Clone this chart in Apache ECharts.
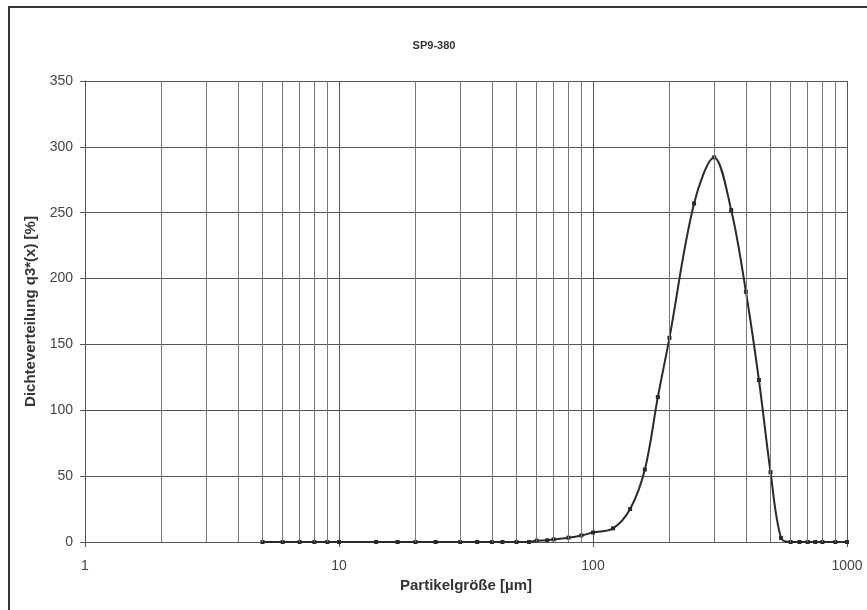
<!DOCTYPE html>
<html><head><meta charset="utf-8">
<script src="https://cdn.jsdelivr.net/npm/echarts@6/dist/echarts.min.js"></script>
<style>html,body{margin:0;padding:0;background:#fff}#c{width:867px;height:610px}</style>
</head><body><div id="c"></div>
<script>
const titleText = 'SP9-380';
const xAxisName = 'Partikelgröße [µm]';
const yAxisName = 'Dichteverteilung q3*(x) [%]';
const particleSizes = [5,6,7,8,9,10,14,17,20,24,30,35,40,44,50,56,60,66,70,80,90,100,120,140,160,180,200,250,300,350,400,450,500,550,600,650,700,750,800,900,1000];
const densityValues = [0,0,0,0,0,0,0,0,0,0,0,0,0,0,0,0,1,1.3,2,3.3,5,7.2,10.4,25,55,110,155,257,292,252,190,123,53,3,0,0,0,0,0,0,0];
const minorGridValues = [2,3,4,5,6,7,8,9,20,30,40,50,60,70,80,90,200,300,400,500,600,700,800,900];
const yMin = 0, yMax = 350, yStep = 50;
const xMin = 1, xMax = 1000;

const chart = echarts.init(document.getElementById('c'), null, {renderer:'canvas'});
const font = 'Liberation Sans, Arial, sans-serif';
chart.setOption({
  animation: false,
  backgroundColor: '#fff',
  graphic: [{
    type: 'rect', shape: {x: 9, y: 7, width: 900, height: 700},
    style: {fill: 'none', stroke: '#333', lineWidth: 2}, silent: true, z: 0
  }],
  title: {
    text: titleText, left: 429, top: 35, textAlign: 'center',
    textStyle: {fontFamily: font, fontSize: 11, fontWeight: 'bold', color: '#333'}
  },
  grid: {left: 85, top: 81, width: 762, height: 461, containLabel: false},
  xAxis: {
    type: 'log', logBase: 10, min: xMin, max: xMax,
    name: xAxisName, nameLocation: 'middle', nameGap: 35,
    nameTextStyle: {fontFamily: font, fontSize: 15, fontWeight: 'bold', color: '#333'},
    axisLine: {show: true, lineStyle: {color: '#555', width: 1}},
    axisTick: {show: true, length: 5, lineStyle: {color: '#555'}},
    axisLabel: {fontFamily: font, fontSize: 14, color: '#444', margin: 17,
      formatter: v => String(Math.round(v))},
    splitLine: {show: true, lineStyle: {color: '#555', width: 1}},
    minorTick: {show: false}, minorSplitLine: {show: false}
  },
  yAxis: {
    type: 'value', min: yMin, max: yMax, interval: yStep,
    name: yAxisName, nameLocation: 'middle', nameGap: 44,
    nameTextStyle: {fontFamily: font, fontSize: 15, fontWeight: 'bold', color: '#333'},
    axisLine: {show: true, lineStyle: {color: '#555', width: 1}},
    axisTick: {show: true, length: 5, lineStyle: {color: '#555'}},
    axisLabel: {fontFamily: font, fontSize: 14, color: '#444', margin: 12},
    splitLine: {show: true, lineStyle: {color: '#555', width: 1}}
  },
  series: [{
    type: 'line', data: [], silent: true, z: 1,
    markLine: {
      silent: true, symbol: ['none','none'], animation: false,
      label: {show: false},
      lineStyle: {color: '#777', width: 1, type: 'solid'},
      emphasis: {disabled: true},
      data: minorGridValues.map(v => ({xAxis: v}))
    }
  }, {
    type: 'line', z: 3,
    data: particleSizes.map((x, i) => [x, densityValues[i]]),
    smooth: 0.35,
    symbol: 'rect', symbolSize: 4, showSymbol: true,
    lineStyle: {color: '#2a2a2a', width: 2},
    itemStyle: {color: '#2a2a2a'}
  }]
});
</script></body></html>
